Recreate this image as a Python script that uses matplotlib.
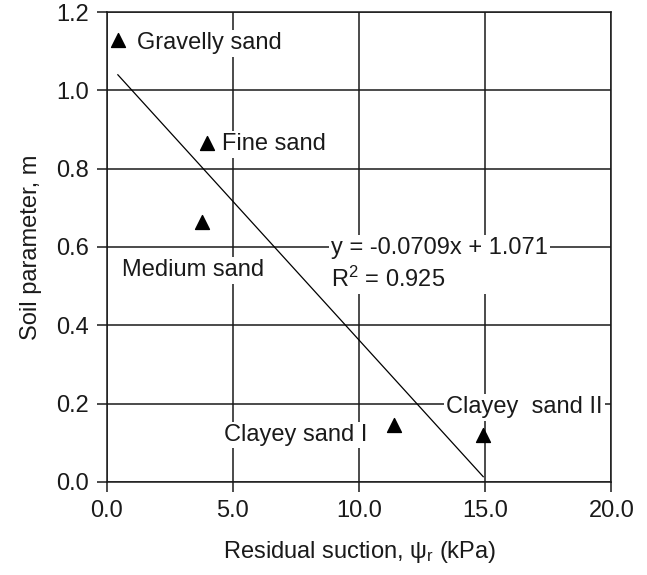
import matplotlib.pyplot as plt
import numpy as np

plt.rcParams['font.family'] = ['Liberation Sans', 'DejaVu Sans']
plt.rcParams['mathtext.fontset'] = 'custom'
plt.rcParams['mathtext.rm'] = 'Liberation Sans'
plt.rcParams['mathtext.it'] = 'Liberation Sans'

# residual suction (kPa) and soil parameter m per soil type
soils = ['Gravelly sand', 'Fine sand', 'Medium sand', 'Clayey sand I', 'Clayey  sand II']
suction = [0.44, 3.98, 3.78, 11.38, 14.92]
m_param = [1.128, 0.865, 0.664, 0.146, 0.12]

slope = -0.0709
intercept = 1.071
r2 = 0.925

# where each soil name is written (data units, left edge / vertical centre)
label_pos = [(1.19, 1.12), (4.57, 0.862), (0.6, 0.54), (4.65, 0.12), (13.45, 0.19)]

FS = 17


def main():
    fig = plt.figure(figsize=(6.47, 5.75), dpi=100)
    ax = fig.add_axes([0.165, 0.162, 0.78, 0.817])

    ax.set_xlim(0, 20)
    ax.set_ylim(0, 1.2)
    xt = np.arange(0, 20.1, 5)
    yt = np.arange(0, 1.21, 0.2)
    ax.set_xticks(xt)
    ax.set_yticks(yt)
    ax.set_xticklabels([f'{v:.1f}' for v in xt])
    ax.set_yticklabels([f'{v:.1f}' for v in yt])
    ax.grid(True, color='#1a1a1a', linewidth=1.1, zorder=0)
    ax.set_axisbelow(True)
    for s in ax.spines.values():
        s.set_linewidth(1.1)
        s.set_color('#1a1a1a')
    ax.tick_params(direction='out', length=7, width=1.1, labelsize=FS, pad=6, colors='#1a1a1a')

    ax.scatter(suction, m_param, marker='^', s=100, color='black', zorder=4)

    # linear fit drawn over the range of the data
    xl = np.array([min(suction), max(suction)])
    ax.plot(xl, slope * xl + intercept, color='black', linewidth=0.9, zorder=3)

    for name, (lx, ly) in zip(soils, label_pos):
        ax.text(lx, ly, name, fontsize=FS, va='center', ha='left', color='#1a1a1a', zorder=5,
                bbox=dict(facecolor='white', edgecolor='none', pad=1.5))

    ax.text(8.9, 0.555, f'y = {slope}x + {intercept}\nR$^2$ = {r2}', fontsize=FS,
            va='center', ha='left', linespacing=1.4, color='#1a1a1a', zorder=5,
            bbox=dict(facecolor='white', edgecolor='none', pad=1.5))

    ax.set_xlabel('Residual suction, $\\psi_r$ (kPa)', fontsize=FS, labelpad=12, color='#1a1a1a')
    ax.set_ylabel('Soil parameter, m', fontsize=FS, labelpad=10, color='#1a1a1a')

    fig.savefig('out.png', dpi=100)


if __name__ == '__main__':
    main()
